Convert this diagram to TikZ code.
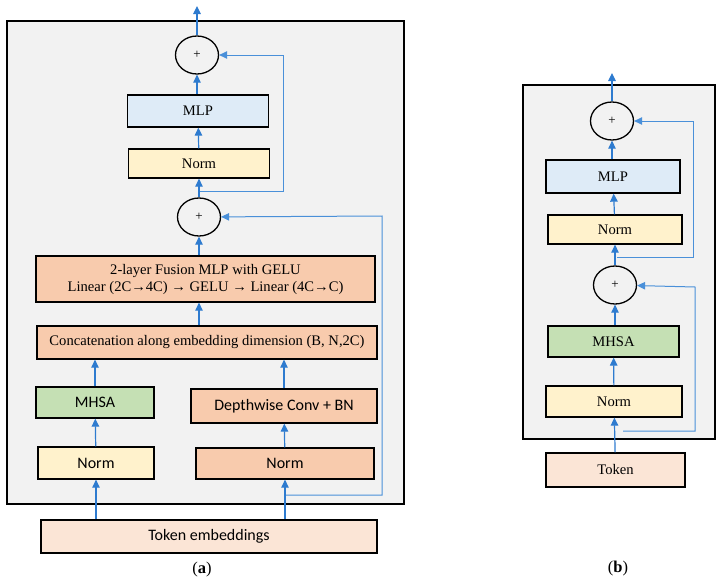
\documentclass[tikz,border=0pt]{standalone}
\usepackage{fontspec}
\setmainfont{Liberation Serif}
\newfontfamily\calib{Carlito}
\usetikzlibrary{arrows.meta,positioning,shapes.geometric}
\definecolor{bggray}{HTML}{F2F2F2}
\definecolor{mlpblue}{HTML}{DEEBF7}
\definecolor{normyel}{HTML}{FFF2CC}
\definecolor{fusorange}{HTML}{F8CBAD}
\definecolor{mhsagreen}{HTML}{C5E0B4}
\definecolor{tokpeach}{HTML}{FBE5D6}
\definecolor{arrblue}{HTML}{2E7BCF}
\definecolor{skipblue}{HTML}{4A90D9}

\begin{document}
\begin{tikzpicture}[x=1pt,y=-1pt,
	blk/.style={draw=black,line width=1.3pt,inner sep=0pt,align=center,font=\fontsize{14.6}{17}\selectfont},
	sblk/.style={blk,font=\calib\fontsize{16}{19}\selectfont},
	sum/.style={draw=black,line width=1.3pt,ellipse,fill=bggray,minimum width=43pt,minimum height=38pt,inner sep=0pt,font=\fontsize{13}{15}\selectfont},
	arr/.style={-{Triangle[length=8pt,width=7.5pt]},line width=1.2pt,arrblue},
	skip/.style={-{Triangle[length=8pt,width=7.5pt]},line width=1pt,skipblue},
	panel/.style={draw=black,line width=1.3pt,fill=bggray},
	sublbl/.style={font=\fontsize{16.5}{19}\selectfont}
	]
	\useasboundingbox (0,0) rectangle (721,581);
	% (a) fusion block
	\draw[panel] (7,21) rectangle (404,504);
	\node[sum] (c1) at (197,55) {+};
	\node[blk,fill=mlpblue,minimum width=141pt,minimum height=32pt] (mlp) at (198,111) {MLP};
	\node[blk,fill=normyel,minimum width=141pt,minimum height=29pt] (nrm) at (199,163.5) {Norm};
	\node[sum] (c2) at (199,217) {+};
	\node[blk,fill=fusorange,minimum width=339pt,minimum height=46pt] (fus) at (205.5,279) {2-layer Fusion MLP with GELU\\Linear (2C→4C) → GELU → Linear (4C→C)};
	\node[blk,fill=fusorange,minimum width=340pt,minimum height=33pt] (cat) at (207,342.5) {Concatenation along embedding dimension (B, N,2C)};
	\node[sblk,fill=mhsagreen,minimum width=118pt,minimum height=31pt] (mhsa) at (95,402.5) {MHSA};
	\node[sblk,fill=fusorange,minimum width=186pt,minimum height=34pt] (dw) at (284,406) {Depthwise Conv + BN};
	\node[sblk,fill=normyel,minimum width=116pt,minimum height=32pt] (n1) at (96,463) {Norm};
	\node[sblk,fill=fusorange,minimum width=178pt,minimum height=31pt] (n2) at (285,463.5) {Norm};
	\node[sblk,fill=tokpeach,minimum width=336pt,minimum height=33pt] (tok) at (209,536.5) {Token embeddings};
	\node[sublbl] (lba) at (202,570) {(\textbf{a})};
	\coordinate (outa) at (197,6);
	\coordinate (s1) at (200,191);
	\coordinate (k1) at (283,55);
	\coordinate (s2) at (286,495);
	\coordinate (k2) at (382,216);
	\draw[arr] (tok.north -| n1) -- (n1);
	\draw[arr] (tok.north -| n2) -- (n2);
	\draw[arr] (n1) -- (mhsa);
	\draw[arr] (n2) -- (dw);
	\draw[arr] (mhsa) -- (mhsa |- cat.south);
	\draw[arr] (dw) -- (dw |- cat.south);
	\draw[arr] (cat.north -| c2) -- (fus.south -| c2);
	\draw[arr] (fus.north -| c2) -- (c2);
	\draw[arr] (c2) -- (nrm);
	\draw[arr] (nrm) -- (mlp);
	\draw[arr] (mlp.north -| c1) -- (c1);
	\draw[arr] (c1) -- (outa);
	\draw[skip] (s1) -| (k1) -- (c1);
	\draw[skip] (s2) -| (k2) -- (c2);
	% (b) transformer block
	\draw[panel] (523,85) rectangle (715,439);
	\node[sum] (cb1) at (612,121) {+};
	\node[blk,fill=mlpblue,minimum width=134pt,minimum height=33pt] (mlpb) at (613,176.5) {MLP};
	\node[blk,fill=normyel,minimum width=134pt,minimum height=29pt] (nrmb) at (615,229.5) {Norm};
	\node[sum] (cb2) at (615,285) {+};
	\node[blk,fill=mhsagreen,minimum width=131pt,minimum height=31pt] (mhsab) at (613.5,341.5) {MHSA};
	\node[blk,fill=normyel,minimum width=136pt,minimum height=31pt] (nrmb2) at (614,401.5) {Norm};
	\node[blk,fill=tokpeach,minimum width=139pt,minimum height=34pt] (tokb) at (615.5,470) {Token};
	\node[sublbl] (lbb) at (618,569) {(\textbf{b})};
	\coordinate (outb) at (612,73);
	\coordinate (sb1) at (617,257);
	\coordinate (kb1) at (693,121);
	\coordinate (sb2) at (623,431);
	\coordinate (kb2) at (695,287);
	\draw[arr] (tokb) -- (nrmb2);
	\draw[arr] (nrmb2) -- (mhsab);
	\draw[arr] (mhsab.north -| cb2) -- (cb2);
	\draw[arr] (cb2) -- (nrmb);
	\draw[arr] (nrmb) -- (mlpb);
	\draw[arr] (mlpb.north -| cb1) -- (cb1);
	\draw[arr] (cb1) -- (outb);
	\draw[skip] (sb1) -| (kb1) -- (cb1);
	\draw[skip] (sb2) -| (kb2) -- (cb2);
\end{tikzpicture}
\end{document}
